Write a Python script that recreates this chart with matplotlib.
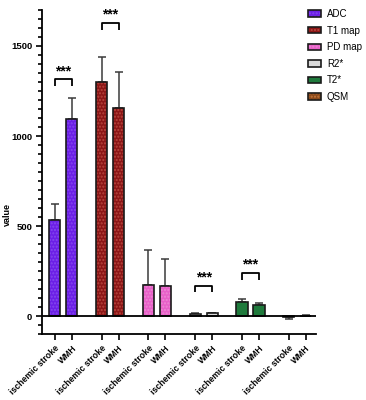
# Bar chart of quantitative map values, ischemic stroke vs WMH

import numpy as np
import matplotlib.pyplot as plt
from matplotlib.patches import Patch
from matplotlib.ticker import MultipleLocator

plt.rcParams['font.family'] = ['Liberation Sans', 'DejaVu Sans']

# Data
MAPS = ['ADC', 'T1 map', 'PD map', 'R2*', 'T2*', 'QSM']
GROUPS = ['ischemic stroke', 'WMH']
MEAN_STROKE = [536, 1299, 174, 12, 78, -3]
MEAN_WMH = [1093, 1158, 165, 14, 60, 2]
SD_STROKE = [88, 139, 190, 5, 19, 13]
SD_WMH = [116, 199, 153, 5, 13, 4]
SIG_LABEL = ['***', '***', '', '***', '***', '']

# Styles
FACE = ['#6b1fe6', '#8c1616', '#e860c8', '#d9d9d9', '#1f7a3c', '#8b4a1c']
DOTS = ['#8448ee', '#b8473f', '#ee88d4', None, None, '#c87a3c']
BRACKET_Y = [1314, 1628, None, 169, 239, None]
GROUP_STEP = 2.75
BAR_W = 0.65

fig = plt.figure(figsize=(3.66, 4.0), dpi=100)
ax = fig.add_axes([42 / 366, 66 / 400, 274 / 366, 324 / 400])

xpos, means, sds, faces, dots, labels = [], [], [], [], [], []
for g in range(len(MAPS)):
    for j, (m, s) in enumerate([(MEAN_STROKE[g], SD_STROKE[g]), (MEAN_WMH[g], SD_WMH[g])]):
        xpos.append(g * GROUP_STEP + j)
        means.append(m)
        sds.append(s)
        faces.append(FACE[g])
        dots.append(DOTS[g])
        labels.append(GROUPS[j])
xpos = np.array(xpos)
means = np.array(means)
sds = np.array(sds)

# error bars only in the direction of the bar
lower = np.where(means < 0, sds, 0)
upper = np.where(means >= 0, sds, 0)
ax.errorbar(xpos, means, yerr=[lower, upper], fmt='none', ecolor='#3a3a3a',
            elinewidth=1.1, capsize=3, capthick=1.1, zorder=2)

for i, x in enumerate(xpos):
    hatch = '.....' if dots[i] else None
    ax.bar(x, means[i], width=BAR_W, color=faces[i], hatch=hatch,
           edgecolor=dots[i] if dots[i] else faces[i], linewidth=0, zorder=3)
    ax.bar(x, means[i], width=BAR_W, fill=False, edgecolor='#1a1a1a',
           linewidth=1.2, zorder=4)

legend_handles = []
for g in range(len(MAPS)):
    fill = Patch(facecolor=FACE[g], edgecolor=DOTS[g] if DOTS[g] else FACE[g],
                 hatch='.....' if DOTS[g] else None, linewidth=0)
    edge = Patch(fill=False, edgecolor='#1a1a1a', linewidth=1.2)
    legend_handles.append((fill, edge))

ax.axhline(0, color='black', linewidth=1.3, zorder=5)

# significance brackets
for g in range(len(MAPS)):
    if not SIG_LABEL[g]:
        continue
    x0 = g * GROUP_STEP
    x1 = x0 + 1
    y = BRACKET_Y[g]
    ax.plot([x0, x0, x1, x1], [y - 37, y, y, y - 37], color='black',
            linewidth=1.3, solid_capstyle='butt', zorder=5)
    ax.text((x0 + x1) / 2, y + 8, SIG_LABEL[g], ha='center', va='bottom',
            fontsize=10, fontweight='bold')

ax.set_xlim(-0.76, 15.35)
ax.set_ylim(-100, 1700)
ax.set_xticks(xpos)
ax.set_xticklabels(labels, rotation=45, ha='right', rotation_mode='anchor',
                   fontsize=6.2, fontweight='bold')
ax.set_yticks([0, 500, 1000, 1500])
ax.yaxis.set_minor_locator(MultipleLocator(50))
ax.tick_params(axis='y', which='major', length=4, width=1.2, labelsize=6.8, pad=3)
ax.tick_params(axis='y', which='minor', length=3, width=1.2)
ax.tick_params(axis='x', length=4, width=1.2, pad=3)
for lbl in ax.get_yticklabels():
    lbl.set_fontweight('bold')
ax.set_ylabel('value', fontsize=6.5, fontweight='bold')
ax.yaxis.set_label_coords(-30 / 274, (334 - 215) / 324)

ax.spines['top'].set_visible(False)
ax.spines['right'].set_visible(False)
ax.spines['left'].set_linewidth(1.3)
ax.spines['bottom'].set_linewidth(1.3)

fig.legend(legend_handles, MAPS, loc='upper left',
           bbox_to_anchor=(308 / 366, 1 - 9 / 400), frameon=False,
           fontsize=7, handlelength=1.35, handleheight=0.65,
           handletextpad=0.6, labelspacing=0.68, borderpad=0,
           borderaxespad=0)

plt.savefig('out.png', dpi=100)
